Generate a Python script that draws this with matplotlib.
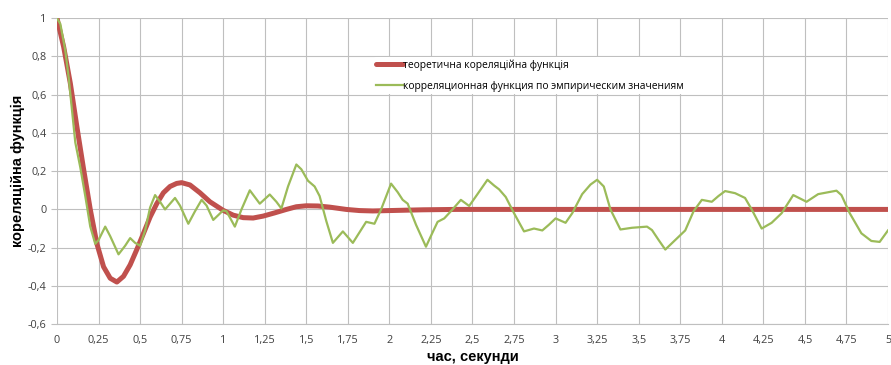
import matplotlib
matplotlib.use("Agg")
import matplotlib.pyplot as plt
from matplotlib.ticker import FixedLocator, FuncFormatter

plt.rcParams['font.family'] = ['Open Sans', 'DejaVu Sans']

# theoretical correlation function
t_theory = [0.00, 0.04, 0.08, 0.12, 0.16, 0.20, 0.24, 0.28, 0.32, 0.36, 0.40,
            0.44, 0.48, 0.52, 0.56, 0.60, 0.64, 0.68, 0.72, 0.75, 0.80, 0.86,
            0.92, 1.00, 1.06, 1.12, 1.18, 1.24, 1.31, 1.38, 1.44, 1.50, 1.57,
            1.64, 1.74, 1.82, 1.90, 2.00, 2.20, 2.40, 3.00, 4.00, 5.00]
r_theory = [1.00, 0.85, 0.66, 0.43, 0.21, 0.00, -0.18, -0.30, -0.36, -0.38, -0.35,
            -0.29, -0.21, -0.126, -0.04, 0.03, 0.087, 0.12, 0.136, 0.14, 0.128, 0.087,
            0.04, -0.005, -0.03, -0.043, -0.045, -0.035, -0.018, 0.0, 0.014, 0.019, 0.018,
            0.012, 0.0, -0.006, -0.008, -0.006, -0.002, 0.0, 0.0, 0.0, 0.0]

t_emp = [0.00, 0.02, 0.05, 0.07, 0.09, 0.11, 0.14, 0.17, 0.20, 0.23, 0.25,
         0.29, 0.32, 0.37, 0.41, 0.44, 0.47, 0.50, 0.53, 0.56, 0.59, 0.62,
         0.65, 0.68, 0.71, 0.74, 0.79, 0.83, 0.87, 0.90, 0.94, 0.97, 1.00,
         1.02, 1.07, 1.11, 1.16, 1.22, 1.28, 1.32, 1.35, 1.39, 1.44, 1.47,
         1.51, 1.55, 1.58, 1.62, 1.66, 1.72, 1.78, 1.82, 1.86, 1.91, 1.95,
         2.01, 2.05, 2.08, 2.11, 2.16, 2.22, 2.26, 2.29, 2.33, 2.38, 2.43,
         2.48, 2.53, 2.59, 2.63, 2.66, 2.70, 2.75, 2.81, 2.87, 2.92, 2.96,
         3.00, 3.06, 3.10, 3.16, 3.21, 3.25, 3.29, 3.33, 3.39, 3.46, 3.55,
         3.58, 3.62, 3.66, 3.72, 3.78, 3.83, 3.88, 3.94, 3.98, 4.02, 4.08,
         4.14, 4.18, 4.24, 4.30, 4.36, 4.43, 4.51, 4.58, 4.69, 4.72, 4.77,
         4.84, 4.90, 4.95, 5.00]
r_emp = [1.00, 0.97, 0.83, 0.69, 0.52, 0.35, 0.22, 0.07, -0.09, -0.18, -0.16,
         -0.09, -0.14, -0.235, -0.19, -0.15, -0.175, -0.19, -0.11, 0.01, 0.075, 0.04,
         0.00, 0.03, 0.06, 0.02, -0.075, -0.01, 0.05, 0.02, -0.055, -0.03, -0.005,
         -0.01, -0.09, 0.00, 0.10, 0.03, 0.078, 0.04, 0.005, 0.12, 0.235, 0.21,
         0.15, 0.12, 0.07, -0.06, -0.175, -0.115, -0.175, -0.12, -0.065, -0.075, 0.00,
         0.135, 0.09, 0.05, 0.03, -0.08, -0.195, -0.12, -0.065, -0.047, 0.00, 0.05,
         0.018, 0.08, 0.155, 0.125, 0.105, 0.065, -0.02, -0.115, -0.10, -0.11, -0.08,
         -0.047, -0.07, -0.02, 0.08, 0.13, 0.155, 0.12, 0.00, -0.105, -0.096, -0.09,
         -0.108, -0.16, -0.21, -0.16, -0.11, -0.01, 0.05, 0.04, 0.07, 0.096, 0.085,
         0.06, 0.00, -0.10, -0.07, -0.02, 0.075, 0.04, 0.08, 0.098, 0.075, -0.02,
         -0.125, -0.165, -0.17, -0.11]

x_ticks = [i * 0.25 for i in range(21)]
y_ticks = [-0.6, -0.4, -0.2, 0, 0.2, 0.4, 0.6, 0.8, 1.0]

def comma_fmt(v, pos):
    s = ('%.2f' % v).rstrip('0').rstrip('.')
    if s == '-0':
        s = '0'
    return s.replace('.', ',')

fig = plt.figure(figsize=(8.91, 3.65), dpi=100)
ax = fig.add_axes([0.064, 0.112, 0.9326, 0.838])

ax.plot(t_theory, r_theory, color='#C0504D', lw=3.6, solid_joinstyle='round',
        solid_capstyle='round', label='теоретична кореляційна функція', zorder=3)
ax.plot(t_emp, r_emp, color='#9BBB59', lw=1.6, solid_joinstyle='round',
        label='корреляционная функция по эмпирическим значениям', zorder=4)

ax.set_xlim(0, 5)
ax.set_ylim(-0.6, 1.0)
ax.xaxis.set_major_locator(FixedLocator(x_ticks))
ax.yaxis.set_major_locator(FixedLocator(y_ticks))
ax.xaxis.set_major_formatter(FuncFormatter(comma_fmt))
ax.yaxis.set_major_formatter(FuncFormatter(comma_fmt))
ax.grid(True, color='#bfbfbf', lw=0.8)
ax.set_axisbelow(True)
for s in ['top', 'right', 'left']:
    ax.spines[s].set_visible(False)
ax.spines['bottom'].set_color('#bfbfbf')
ax.tick_params(axis='x', length=0, labelsize=7.8, labelcolor='#404040', pad=8)
ax.tick_params(axis='y', length=4, color='#bfbfbf', labelsize=7.8, labelcolor='#404040')

lab_font = ['Liberation Sans Narrow', 'Liberation Sans', 'DejaVu Sans']
ax.set_xlabel('час, секунди', fontsize=10.5, fontweight='bold', family=lab_font, labelpad=3)
ax.set_ylabel('кореляційна функція', fontsize=10.5, fontweight='bold', family=lab_font, labelpad=2)

leg = ax.legend(loc='upper left', bbox_to_anchor=(0.375, 0.89), fontsize=7.4, frameon=True,
                facecolor='white', edgecolor='none', framealpha=1, handlelength=2.6,
                handletextpad=0.05, labelspacing=1.0, borderpad=0.2)

fig.savefig('out.png', dpi=100)
